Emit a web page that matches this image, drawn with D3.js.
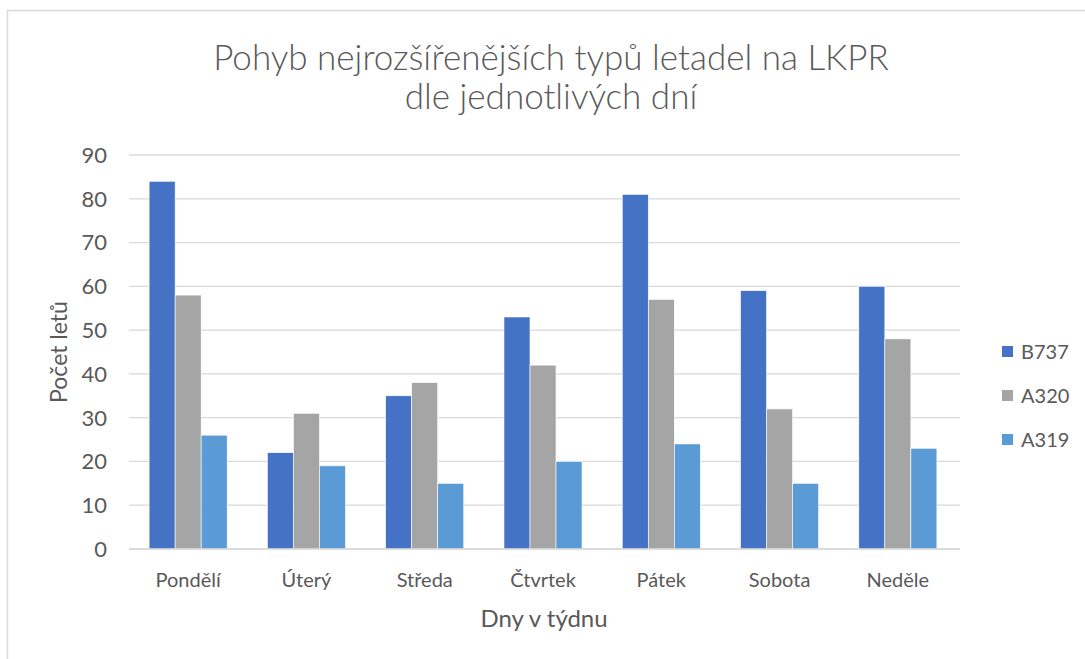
<!DOCTYPE html>
<html><head><meta charset="utf-8">
<script src="https://cdn.jsdelivr.net/npm/d3@7"></script>
<style>body{margin:0;background:#fff;} svg{display:block;} text{font-family:Lato,"Open Sans",sans-serif;fill:#595959;}</style>
</head><body><svg id="c" width="1085" height="659"></svg>
<script>
const categories = ["Pondělí","Úterý","Středa","Čtvrtek","Pátek","Sobota","Neděle"];
const seriesNames = ["B737","A320","A319"];
const b737 = [84,22,35,53,81,59,60];
const a320 = [58,31,38,42,57,32,48];
const a319 = [26,19,15,20,24,15,23];
const yTicks = [0,10,20,30,40,50,60,70,80,90];
const colors = ["#4472C4","#A5A5A5","#5B9BD5"];
const seriesValues = [b737,a320,a319];

const svg = d3.select("#c");
svg.append("rect").attr("width",1085).attr("height",659).attr("fill","#fff");
svg.append("line").attr("x1",7).attr("x2",1085).attr("y1",10.5).attr("y2",10.5).attr("stroke","#d9d9d9").attr("stroke-width",1.5);
svg.append("line").attr("x1",7.5).attr("x2",7.5).attr("y1",10).attr("y2",659).attr("stroke","#d9d9d9").attr("stroke-width",1.5);

const x0 = d3.scaleBand().domain(categories).range([129,957]).paddingInner(0.34).paddingOuter(0.17);
const x1 = d3.scaleBand().domain(seriesNames).range([0,x0.bandwidth()]);
const y = d3.scaleLinear().domain([0,90]).range([549,155]);

svg.append("g").selectAll("line").data(yTicks).join("line")
  .attr("x1",129).attr("x2",960).attr("y1",d=>y(d)).attr("y2",d=>y(d))
  .attr("stroke","#d9d9d9").attr("stroke-width",1.3);

svg.append("g").selectAll("text").data(yTicks).join("text")
  .attr("x",107).attr("y",d=>y(d)).attr("dy","0.36em").attr("text-anchor","end")
  .attr("font-size",22).text(d=>d);

const rows = categories.map((c,i)=>({cat:c, vals:seriesNames.map((s,j)=>({s, v:seriesValues[j][i], j}))}));
const g = svg.append("g").selectAll("g").data(rows).join("g").attr("transform",d=>`translate(${x0(d.cat)},0)`);
g.selectAll("rect").data(d=>d.vals).join("rect")
  .attr("x",d=>x1(d.s)).attr("width",x1.bandwidth())
  .attr("y",d=>y(d.v)).attr("height",d=>y(0)-y(d.v))
  .attr("fill",d=>colors[d.j]).attr("stroke","#fff").attr("stroke-width",0.6);

svg.append("line").attr("x1",129).attr("x2",960).attr("y1",y(0)).attr("y2",y(0)).attr("stroke","#d9d9d9").attr("stroke-width",1.3);

svg.append("g").selectAll("text").data(categories).join("text")
  .attr("x",d=>x0(d)+x0.bandwidth()/2).attr("y",587).attr("text-anchor","middle")
  .attr("font-size",20).text(d=>d);

svg.append("text").attr("x",544).attr("y",627).attr("text-anchor","middle").attr("font-size",24).text("Dny v týdnu");
svg.append("text").attr("transform","translate(67,352) rotate(-90)").attr("text-anchor","middle").attr("font-size",23).text("Počet letů");

const t = svg.append("text").attr("text-anchor","middle").attr("font-size",35).attr("font-weight",300);
t.append("tspan").attr("x",551).attr("y",70).text("Pohyb nejrozšířenějších typů letadel na LKPR");
t.append("tspan").attr("x",551).attr("y",109).text("dle jednotlivých dní");

const lg = svg.append("g").selectAll("g").data(seriesNames).join("g").attr("transform",(d,i)=>`translate(1002,${346+i*44})`);
lg.append("rect").attr("width",11).attr("height",11).attr("fill",(d,i)=>colors[i]);
lg.append("text").attr("x",19).attr("y",5.5).attr("dy","0.36em").attr("font-size",20).text(d=>d);
</script></body></html>
